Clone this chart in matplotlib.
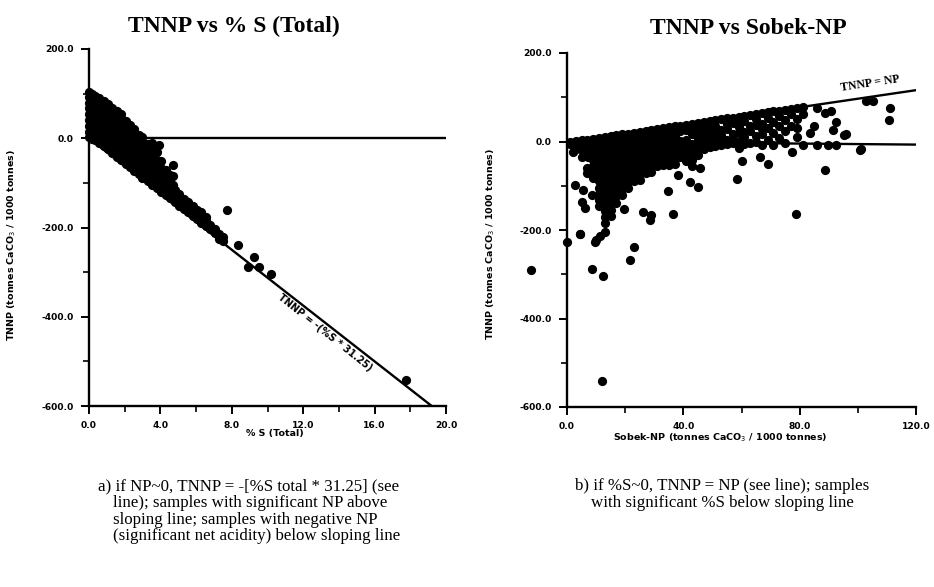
import matplotlib
matplotlib.use("Agg")
import matplotlib.pyplot as plt
from matplotlib.ticker import MultipleLocator

# ---------------- Panel a: TNNP vs % S (Total) ----------------
# dense cloud, read column by column (x, list of TNNP values)
a_cols = [
    (0.02, [2, 15, 28, 42, 55, 68, 80, 92, 104]),
    (0.15, [-1, 12, 25, 38, 50, 63, 76, 88, 100]),
    (0.35, [-4, 8, 22, 35, 48, 60, 73, 85, 95]),
    (0.55, [-10, 3, 16, 30, 44, 57, 70, 82, 90]),
    (0.84, [-17, -4, 10, 24, 37, 50, 62, 74, 83]),
    (1.05, [-25, -12, 2, 15, 28, 42, 55, 68, 76]),
    (1.3, [-33, -20, -6, 8, 21, 35, 48, 60, 68]),
    (1.55, [-41, -28, -14, 0, 13, 27, 40, 52, 60]),
    (1.8, [-49, -36, -22, -8, 5, 18, 32, 45, 54]),
    (2.05, [-57, -44, -30, -16, -2, 12, 25, 38]),
    (2.3, [-65, -52, -38, -24, -10, 4, 18, 30]),
    (2.5, [-73, -60, -46, -32, -18, -4, 10, 20]),
    (2.8, [-80, -67, -53, -40, -26, -12, 2, 8]),
    (2.97, [-88, -75, -61, -48, -34, -20, -6, 2]),
    (3.3, [-96, -83, -69, -55, -42, -28, -14]),
    (3.55, [-104, -90, -77, -63, -50, -36, -22, -10]),
    (3.8, [-112, -98, -85, -71, -58, -49, -30]),
    (3.9, [-16]),
    (4.05, [-120, -106, -92, -79, -66, -52]),
    (4.3, [-127, -114, -100, -86, -72]),
    (4.55, [-135, -121, -108, -95, -82]),
    (4.7, [-61, -85, -105]),
    (4.8, [-143, -129, -115]),
    (5.05, [-151, -138, -124]),
    (5.3, [-158, -146, -136]),
    (5.55, [-166, -153, -142]),
    (5.8, [-174, -162, -152]),
    (6.05, [-182, -170, -160]),
    (6.3, [-189, -176, -166]),
    (6.55, [-196, -184, -176]),
    (6.8, [-203, -194]),
    (7.05, [-212, -204]),
    (7.27, [-226, -214]),
    (7.5, [-230, -222]),
]
# isolated samples
a_out_s = [7.75, 8.37, 8.93, 9.27, 9.55, 10.17, 17.75]
a_out_tnnp = [-161, -240, -288, -267, -289, -304, -542]

# ---------------- Panel b: TNNP vs Sobek-NP ----------------
b_cols = [
    (1, [0, -6]),
    (2.1, [-23]),
    (3, [2, -8, -18]),
    (5, [3, -8, -20, -35]),
    (7, [4, -8, -20, -33, -60, -72]),
    (9, [6, -6, -18, -30, -42, -55, -68, -82]),
    (11, [8, -4, -16, -28, -40, -52, -64, -76, -90, -104, -118, -132, -146]),
    (13, [10, -2, -14, -26, -38, -50, -62, -74, -86, -100, -114, -128, -142, -156, -170, -184]),
    (15, [12, 0, -12, -24, -36, -48, -60, -72, -84, -98, -112, -126, -140, -154, -168]),
    (17, [14, 2, -10, -22, -34, -46, -58, -70, -82, -96, -110, -124, -138]),
    (19, [16, 4, -8, -20, -32, -44, -56, -68, -80, -94, -108, -122]),
    (21, [18, 6, -6, -18, -30, -42, -54, -66, -78, -92, -106]),
    (23, [20, 8, -4, -16, -28, -40, -52, -64, -76, -90]),
    (25, [22, 10, -2, -14, -26, -38, -50, -62, -74, -86]),
    (27, [24, 12, 0, -12, -24, -36, -48, -60, -72]),
    (29, [26, 14, 2, -10, -22, -34, -46, -58, -70]),
    (31, [28, 16, 4, -8, -20, -32, -44, -56]),
    (33, [30, 18, 6, -6, -18, -30, -42, -54]),
    (35, [32, 20, 8, -4, -16, -28, -40, -52]),
    (37, [34, 22, 10, -2, -14, -26, -38, -50]),
    (39, [36, 24, 2, -10, -22, -34]),
    (41, [38, 26, 4, -8, -20, -32, -44]),
    (43, [40, 28, 16, -6, -18, -30, -42, -55]),
    (45, [42, 30, 18, 6, -6, -18, -30]),
    (47, [44, 32, 20, 8, -4, -16]),
    (49, [46, 34, 22, 10, -2, -12]),
    (51, [48, 36, 24, 12, 0, -10]),
    (53, [50, 26, 14, 2, -8]),
    (55, [52, 40, 28, 4, -6]),
    (57, [54, 42, 18, 6, -4]),
    (59, [56, 44, 32, 20, -2, -14]),
    (61, [58, 46, 22, 10, -6]),
    (63, [60, 36, 24, -4]),
    (65, [62, 50, 38, 12, 0]),
    (67, [64, 40, 28, 16, -8]),
    (69, [66, 54, 30, 4]),
    (71, [68, 44, 20, -8]),
    (73, [70, 58, 34, 8]),
    (75, [72, 48, 24, -4]),
    (77, [74, 62, 36]),
    (79, [76, 50, 30, 10]),
    (81, [78, 62, -8]),
]
b_out_np = [-12.4, 0, 4.5, 8.7, 12.5, 12.1, 21.6, 23.0, 9.9, 11.5, 13.0, 19.7,
            26.2, 29.0, 28.5, 36.5, 34.8, 42.3, 45.1, 45.7, 38.3, 58.3, 60.3,
            66.3, 69.1, 78.9, 77.2, 88.6, 85.8, 89.8, 92.6, 100.6, 95.4, 83.4,
            85.1, 91.5, 92.6, 90.9, 88.6, 85.8, 110.9, 110.7, 102.9, 105.2,
            2.7, 5.5, 8.6, 5.1, 6.2, 4.5, 9.6, 7.2, 96.0, 101.0]
b_out_tnnp = [-290, -227, -208, -288, -303, -542, -267, -239, -223, -214, -205, -152,
              -159, -167, -178, -164, -112, -91, -102, -61, -76, -85, -44,
              -34, -51, -164, -23, -64, -8, -8, -8, -19, 15, 19,
              34, 26, 45, 70, 64, 76, 76, 49, 91, 91,
              -98, -109, -121, -136, -151, -209, -227, -34, 16, -18]

# reference lines
a_line_s = [0, 19.2]
a_line_tnnp = [0, -600]
b_line_np = [0, 120]
b_line_tnnp = [0, 116]
b_zero_np = [0, 120]
b_zero_tnnp = [0, -7]

xa_ticks = [0, 4, 8, 12, 16, 20]
xb_ticks = [0, 40, 80, 120]
y_ticks = [200, 0, -200, -400, -600]


def flatten(cols):
    xs, ys = [], []
    for x, yl in cols:
        for y in yl:
            xs.append(x)
            ys.append(y)
    return xs, ys


plt.rcParams['font.family'] = ['DejaVu Sans']
fig = plt.figure(figsize=(9.34, 5.87), dpi=100)

axA = fig.add_axes([89 / 934, 1 - 406 / 587, 357 / 934, 357 / 587])
axB = fig.add_axes([567 / 934, 1 - 407 / 587, 349 / 934, 354 / 587])

MS = 44
serif = ['Liberation Serif', 'DejaVu Serif']


def style(ax, xticks, xminor, xlim):
    ax.set_xlim(*xlim)
    ax.set_ylim(-600, 200)
    for s in ['top', 'right']:
        ax.spines[s].set_visible(False)
    for s in ['left', 'bottom']:
        ax.spines[s].set_linewidth(1.7)
    ax.set_xticks(xticks)
    ax.set_yticks(y_ticks)
    ax.xaxis.set_minor_locator(MultipleLocator(xminor))
    ax.yaxis.set_minor_locator(MultipleLocator(100))
    ax.set_xticklabels([f"{t:.1f}" for t in xticks], fontsize=6.6, fontweight='bold')
    ax.set_yticklabels([f"{t:.1f}" for t in y_ticks], fontsize=6.6, fontweight='bold')
    ax.tick_params(which='major', length=6, width=1.4, direction='out', pad=5)
    ax.tick_params(which='minor', length=4, width=1.2, direction='out')


# Panel a
xs, ys = flatten(a_cols)
axA.scatter(xs, ys, s=MS, c='black', linewidths=0, clip_on=False, zorder=3)
axA.scatter(a_out_s, a_out_tnnp, s=MS, c='black', linewidths=0, clip_on=False, zorder=3)
axA.plot(a_line_s, a_line_tnnp, color='black', lw=1.7)
axA.axhline(0, color='black', lw=1.7)
style(axA, xa_ticks, 2, (0, 20))
axA.set_title("TNNP vs % S (Total)", family=serif, fontweight='bold', fontsize=17,
              x=0.405, y=1.025)
axA.set_xlabel("% S (Total)", fontsize=6.8, fontweight='bold', labelpad=3)
axA.xaxis.set_label_coords(0.52, -0.065)
axA.set_ylabel("TNNP (tonnes CaCO$_3$ / 1000 tonnes)", fontsize=6.8, fontweight='bold')
axA.yaxis.set_label_coords(-0.2, 0.45)
axA.text(13.2, -435, "TNNP = -(%S * 31.25)", rotation=-38.5, fontsize=7,
         fontweight='bold', ha='center', va='center', rotation_mode='anchor')

# Panel b
xs, ys = flatten(b_cols)
axB.scatter(xs, ys, s=MS, c='black', linewidths=0, clip_on=False, zorder=3)
axB.scatter(b_out_np, b_out_tnnp, s=MS, c='black', linewidths=0, clip_on=False, zorder=3)
axB.plot(b_line_np, b_line_tnnp, color='black', lw=1.7)
axB.plot(b_zero_np, b_zero_tnnp, color='black', lw=1.7)
style(axB, xb_ticks, 20, (0, 120))
axB.set_title("TNNP vs Sobek-NP", family=serif, fontweight='bold', fontsize=17,
              x=0.52, y=1.03)
axB.set_xlabel("Sobek-NP (tonnes CaCO$_3$ / 1000 tonnes)", fontsize=6.8, fontweight='bold')
axB.xaxis.set_label_coords(0.44, -0.07)
axB.set_ylabel("TNNP (tonnes CaCO$_3$ / 1000 tonnes)", fontsize=6.8, fontweight='bold')
axB.yaxis.set_label_coords(-0.2, 0.46)
axB.text(104.5, 117, "TNNP = NP", rotation=8.6, fontsize=8.5, family=serif,
         fontweight='bold', ha='center', va='bottom', rotation_mode='anchor')

# captions
cap_a = ["a) if NP~0, TNNP = -[%S total * 31.25] (see",
         "line); samples with significant NP above",
         "sloping line; samples with negative NP",
         "(significant net acidity) below sloping line"]
cap_b = ["b) if %S~0, TNNP = NP (see line); samples",
         "with significant %S below sloping line"]
for i, line in enumerate(cap_a):
    x = 98 if i == 0 else 113
    fig.text(x / 934, 1 - (486 + 16.8 * i) / 587, line, family=serif, fontsize=12.2,
             ha='left', va='center')
for i, line in enumerate(cap_b):
    fig.text(722 / 934, 1 - (486 + 16.8 * i) / 587, line, family=serif, fontsize=12.2,
             ha='center', va='center')

fig.savefig("out.png", dpi=100)
